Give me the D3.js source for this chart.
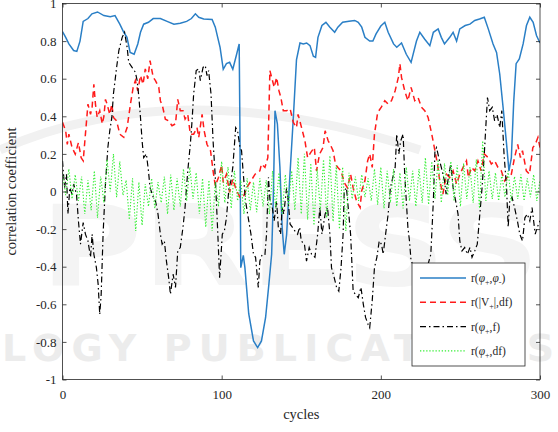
<!DOCTYPE html>
<html>
<head>
<meta charset="utf-8">
<script src="https://cdn.jsdelivr.net/npm/d3@7"></script>
<style>
  body { margin: 0; background: #fff; }
  svg { display: block; }
  svg text { font-family: "Liberation Serif", "Times New Roman", "DejaVu Serif", serif; }
  svg text.wm { font-family: "DejaVu Sans", sans-serif; }
</style>
</head>
<body>
<div id="chart"></div>
<script>
// values: [cycle, r]
const phiPlusPhiMinus = [
  [0,0.85],[2,0.82],[4,0.785],[7,0.75],[9,0.745],[11,0.80],[13,0.905],[16,0.92],[18.5,0.945],[22,0.955],
  [26,0.936],[30,0.93],[33,0.936],[36,0.89],[38.5,0.847],[40.5,0.82],[42.5,0.74],[45,0.73],[47.3,0.785],[49,0.847],
  [51,0.89],[54,0.90],[57,0.92],[61.5,0.92],[65.7,0.905],[70,0.89],[74,0.895],[78,0.905],[81,0.92],[83.5,0.945],
  [85.6,0.927],[88.7,0.918],[94,0.915],[96,0.874],[97.5,0.82],[99,0.767],[101,0.65],[103,0.68],[105,0.687],[107,0.65],
  [109.4,0.73],[111,0.785],[111.5,0.305],[112,-0.405],[113.6,-0.34],[114.6,-0.405],[117,-0.65],[120,-0.795],[122.6,-0.83],[125,-0.795],
  [127.6,-0.67],[129.7,-0.49],[131.4,-0.334],[132.4,-0.05],[133.5,0.43],[135,0.36],[136.6,0.128],[138,-0.19],[139.3,-0.334],[140.8,-0.23],
  [142.9,0.09],[145,0.39],[147,0.70],[149.2,0.79],[151.3,0.785],[153.4,0.79],[155.5,0.776],[157.6,0.72],[159,0.714],[160.5,0.82],
  [163,0.883],[165.5,0.90],[168,0.874],[171,0.847],[173,0.874],[176,0.90],[180,0.905],[183.6,0.91],[185.8,0.90],[188,0.874],
  [190,0.82],[193,0.80],[195,0.80],[197,0.838],[200,0.88],[202.5,0.90],[204.6,0.847],[208,0.785],[210,0.767],[213,0.79],
  [216,0.73],[219,0.687],[222.4,0.80],[224.5,0.847],[227.6,0.81],[230.8,0.776],[233,0.847],[236,0.865],[238,0.82],[240,0.785],
  [243.3,0.82],[245.4,0.847],[247.6,0.80],[249.6,0.865],[253,0.883],[256,0.89],[259,0.91],[262,0.918],[265,0.927],[267.5,0.865],
  [270.5,0.785],[272.7,0.74],[274.7,0.625],[276.8,0.448],[279,0.252],[280.5,0.11],[282,0.18],[283.5,0.48],[285,0.68],[287,0.705],
  [289.4,0.785],[291.5,0.883],[293.6,0.927],[295.7,0.90],[297.8,0.83],[300,0.79]
];

const vPlusDf = [
  [0,0.368],[2,0.323],[3,0.25],[4,0.305],[6,0.234],[8,0.199],[10,0.26],[11.7,0.18],[13,0.163],[14.4,0.305],
  [16,0.465],[17.6,0.41],[18.6,0.448],[19.7,0.57],[20.7,0.465],[21.8,0.394],[23.4,0.43],[25,0.36],[26,0.40],[27,0.49],
  [28,0.465],[29.7,0.41],[31,0.465],[32,0.394],[34,0.376],[36,0.305],[38.5,0.288],[40.6,0.34],[42.7,0.465],[44.4,0.554],
  [45.8,0.59],[47.3,0.536],[49,0.616],[50.6,0.57],[52,0.652],[53.6,0.60],[55,0.696],[57,0.607],[58.4,0.59],[60.5,0.554],
  [61.5,0.483],[63,0.448],[64.6,0.385],[66.7,0.376],[68.8,0.35],[71,0.36],[72.4,0.49],[74,0.43],[75.7,0.43],[77,0.385],
  [78.7,0.41],[80.3,0.305],[82.4,0.305],[84.5,0.34],[85.6,0.288],[87.7,0.41],[89,0.323],[90.8,0.25],[93,0.217],[94.6,0.11],
  [96,0.03],[98,0.075],[100,0.14],[101,0.048],[103,0.092],[105,-0.005],[107,0.066],[109,0.012],[111.5,-0.03],[113.6,-0.03],
  [115.7,0.02],[117.8,0.048],[121,0.092],[124,0.11],[125,0.146],[127.2,0.128],[129,0.18],[130.3,0.643],[131.4,0.607],[133,0.554],
  [134.5,0.607],[136,0.536],[137.2,0.50],[138.7,0.43],[140.8,0.43],[143,0.44],[145,0.368],[147,0.34],[148,0.41],[150.2,0.34],
  [152.3,0.27],[154,0.18],[156,0.208],[158.2,0.234],[159.6,0.11],[161.5,0.199],[163.7,0.234],[165,0.323],[166.9,0.27],[168.6,0.243],
  [170,0.217],[171.5,0.146],[173,0.128],[175,0.11],[177,0.048],[179,0.02],[181,0.092],[182.6,0.02],[184.7,-0.05],[187,-0.085],
  [188,0.004],[190,0.057],[191.7,0.163],[193,0.2],[194.6,0.128],[196,0.305],[198,0.42],[200.4,0.45],[202.5,0.483],[204.6,0.465],
  [206.7,0.483],[209,0.536],[211,0.607],[212,0.68],[213,0.607],[215,0.536],[217,0.483],[219,0.554],[221.3,0.483],[223.4,0.50],
  [225.5,0.448],[227.6,0.43],[229.7,0.394],[232,0.305],[234,0.217],[235.6,0.146],[237,0.057],[239,-0.014],[241.2,0.092],[243.3,0.075],
  [245.4,0.11],[247.6,0.04],[249.6,0.092],[251.7,0.128],[253.8,0.163],[255,0.075],[257,0.128],[259,0.11],[261,0.163],[263,0.11],
  [265,0.2],[267.5,0.18],[269.4,0.146],[271.5,0.163],[273.6,0.128],[275.7,0.11],[277.8,0.057],[280,0.083],[282,0.092],[284,0.18],
  [286,0.25],[287.7,0.18],[289,0.217],[291.4,0.11],[293.4,0.092],[295.5,0.234],[297,0.25],[298.7,0.288],[300,0.234]
];

const phiPlusF = [
  [0,0.163],[1.3,0.02],[2.5,0.092],[3.4,-0.12],[4.6,0.02],[6,-0.014],[7,0.04],[8.8,-0.014],[10,-0.156],[11.3,-0.28],
  [13,-0.165],[14.4,-0.227],[16,-0.263],[17.6,-0.35],[18.6,-0.227],[19.7,-0.334],[21.3,-0.405],[22.4,-0.494],[23.4,-0.654],[24.3,-0.547],
  [25.5,-0.227],[27,0.04],[28.5,0.234],[29.7,0.323],[31,0.394],[32,0.519],[34,0.66],[35.4,0.75],[37.5,0.82],[39,0.847],
  [40.6,0.767],[41.6,0.687],[43.7,0.66],[45.8,0.634],[46.9,0.59],[48,0.50],[49,0.394],[50,0.27],[51,0.18],[52.7,0.2],
  [54,0.11],[55,0.02],[57,-0.03],[58.4,-0.05],[60,-0.12],[61.5,-0.227],[62.6,-0.28],[64,-0.263],[65.3,-0.37],[66.7,-0.458],
  [67.8,-0.547],[69.5,-0.44],[71,-0.51],[72.4,-0.316],[74,-0.298],[75.7,-0.19],[77,-0.085],[78.7,0.11],[80.3,0.25],[81.4,0.376],
  [82.4,0.519],[84,0.643],[85.6,0.652],[86.6,0.59],[88.3,0.66],[89.7,0.67],[90.8,0.616],[91.8,0.643],[93.3,0.519],[94.6,0.27],
  [96,0.075],[97.5,-0.21],[98.7,-0.458],[100.4,-0.227],[101.7,-0.21],[103,-0.14],[104.6,0.02],[105.8,0.057],[107,0.128],[108.8,0.34],
  [110,0.323],[111.5,0.234],[112.5,0.217],[113.6,0.092],[115,-0.05],[116.7,-0.14],[118.4,-0.227],[120,-0.334],[121.3,-0.35],[123,-0.51],
  [124,-0.37],[125.5,-0.334],[127.2,-0.334],[128.2,-0.227],[129.4,0.075],[130.4,-0.05],[131.8,-0.085],[133,-0.156],[134.5,-0.05],[135.6,-0.19],
  [137,-0.227],[138,-0.085],[139,-0.12],[140.8,0.02],[141.8,-0.05],[143,-0.174],[144.4,-0.19],[146,-0.21],[147.7,-0.227],[149,-0.19],
  [150,-0.263],[152,-0.28],[153.3,-0.37],[155,-0.298],[156.5,-0.334],[158.6,-0.35],[160.3,-0.227],[161.7,-0.085],[163,-0.227],[165,-0.12],
  [166.5,-0.085],[168,-0.227],[169,-0.405],[170.7,-0.458],[172.2,-0.51],[173.6,-0.53],[175,-0.405],[176.3,-0.227],[177,0.004],[178.4,0.02],
  [179.5,-0.085],[181,-0.227],[182.6,-0.53],[184,-0.547],[185.8,-0.565],[187.5,-0.51],[189,-0.60],[190.4,-0.67],[192,-0.707],[193,-0.725],
  [194.6,-0.58],[196,-0.405],[197.5,-0.35],[199,-0.263],[200.4,-0.28],[201.5,-0.334],[203,-0.227],[204.6,-0.12],[206,0.02],[208,0.092],
  [209,0.128],[210,0.305],[211.3,0.2],[212.5,0.27],[214,0.305],[215,0.092],[216,-0.05],[217,-0.19],[218,-0.263],[219,-0.37],
  [221.4,-0.405],[225.5,-0.44],[229.7,-0.387],[231.4,-0.334],[233,-0.05],[234,0.217],[235,0.234],[236.4,0.18],[238,0.128],[240,0.057],
  [241,-0.014],[242.7,0.092],[244,0.146],[245.4,0.02],[247,-0.05],[248.5,-0.12],[249.6,-0.263],[251,-0.316],[252.7,-0.298],[254.4,-0.334],
  [256,-0.298],[257.3,-0.35],[259,-0.316],[260.6,-0.28],[262,-0.14],[263.6,0.02],[265,0.2],[265.7,0.305],[267,0.50],[268.4,0.43],
  [270,0.448],[271.5,0.376],[273,0.41],[274.7,0.34],[276,0.43],[277.4,0.2],[279,0.02],[280,-0.19],[281,-0.05],[282.4,-0.03],
  [284,-0.085],[285.8,-0.156],[287.3,-0.227],[289,-0.263],[290.5,-0.14],[292,-0.12],[293.6,-0.156],[295,-0.085],[297,-0.227],[298.3,-0.19],
  [300,-0.156]
];

// r(phi+, df), one value every 2 cycles
const dfCycles = d3.range(0, 301, 2);
const phiPlusDf = [
  0.10,-0.02,0.12,-0.04,0.09,-0.05,0.08,-0.12,0.06,-0.10,
  0.11,-0.14,0.08,-0.06,0.17,0.00,0.20,-0.03,0.16,-0.02,
  0.06,-0.15,0.07,-0.21,0.05,-0.18,0.04,-0.08,0.07,-0.09,
  0.05,-0.06,0.08,-0.12,0.09,-0.10,0.07,-0.08,0.12,-0.05,
  0.13,-0.04,0.10,-0.12,0.07,-0.19,0.06,-0.21,0.05,-0.08,
  0.16,-0.06,0.13,-0.09,0.11,-0.05,0.06,-0.12,0.07,-0.10,
  0.05,-0.11,0.07,-0.08,0.06,-0.12,0.11,-0.09,0.10,-0.12,
  0.09,-0.08,0.11,-0.10,0.18,-0.12,0.20,-0.15,0.15,-0.18,
  0.12,-0.10,0.17,-0.14,0.19,-0.16,0.14,-0.20,0.13,-0.21,
  0.10,-0.04,0.08,-0.05,0.09,-0.03,0.07,-0.05,0.12,-0.07,
  0.13,-0.09,0.11,-0.06,0.12,-0.08,0.10,-0.09,0.13,-0.05,
  0.11,-0.08,0.12,-0.06,0.18,-0.07,0.16,-0.04,0.17,-0.06,
  0.15,-0.02,0.16,-0.05,0.14,-0.08,0.15,-0.04,0.13,-0.06,
  0.17,-0.09,0.27,-0.05,0.11,-0.04,0.10,-0.05,0.09,-0.03,
  0.11,-0.05,0.08,-0.04,0.09,-0.05,0.07,-0.03,0.09,-0.05,
  0.06
];

const xTicks = [0, 100, 200, 300];
const yTicks = [-1, -0.8, -0.6, -0.4, -0.2, 0, 0.2, 0.4, 0.6, 0.8, 1];

const margin = {top: 3.5, right: 18, bottom: 52.5, left: 62.5};
const width = 558 - margin.left - margin.right;
const height = 432 - margin.top - margin.bottom;

const root = d3.select("#chart")
    .append("svg")
    .attr("width", 558)
    .attr("height", 432);

root.append("rect").attr("width", 558).attr("height", 432).attr("fill", "#fff");

// faint publisher watermark behind the plot
const wm = root.append("g").attr("font-weight", "bold");
wm.append("path")
    .attr("d", "M0,150 Q180,70 420,150")
    .attr("fill", "none").attr("stroke", "#f1f1f1").attr("stroke-width", 9);
wm.append("text").attr("class", "wm").attr("x", 40).attr("y", 285).attr("font-size", 112)
    .attr("fill", "#f4f4f4")
    .attr("textLength", 500).attr("lengthAdjust", "spacingAndGlyphs").text("PRESS");
wm.append("text").attr("class", "wm").attr("x", 2).attr("y", 361).attr("font-size", 38).attr("fill", "#ececec")
    .attr("textLength", 552).attr("lengthAdjust", "spacing").text("LOGY PUBLICATIONS");

const svg = root.append("g")
    .attr("transform", `translate(${margin.left},${margin.top})`);

const x = d3.scaleLinear().domain([0, 300]).range([0, width]);
const y = d3.scaleLinear().domain([-1, 1]).range([height, 0]);

svg.append("clipPath").attr("id", "plot")
  .append("rect").attr("width", width).attr("height", height);

const line = d3.line().x(d => x(d[0])).y(d => y(d[1]));

const plot = svg.append("g").attr("clip-path", "url(#plot)").attr("fill", "none");

plot.append("path").datum(phiPlusPhiMinus)
    .attr("d", line).attr("stroke", "#2a7fc6").attr("stroke-width", 1.5);
plot.append("path").datum(vPlusDf)
    .attr("d", line).attr("stroke", "#ff1a1a").attr("stroke-width", 1.5)
    .attr("stroke-dasharray", "6,4");
plot.append("path").datum(phiPlusF)
    .attr("d", line).attr("stroke", "#000").attr("stroke-width", 1.2)
    .attr("stroke-dasharray", "6,3,1.5,3");
plot.append("path").datum(dfCycles.map((c, i) => [c, phiPlusDf[i]]))
    .attr("d", line).attr("stroke", "#33ee33").attr("stroke-width", 1.1)
    .attr("stroke-dasharray", "1.3,1.8");

// axes, MATLAB style: inward ticks on all four sides
const axisStyle = g => {
  g.attr("font-family", null);
  g.selectAll(".domain").remove();
  g.selectAll("line").attr("stroke", "#262626").attr("stroke-width", 0.8);
  g.selectAll("text").attr("font-size", 13).attr("fill", "#262626");
};

svg.append("g").attr("transform", `translate(0,${height})`)
    .call(d3.axisBottom(x).tickValues(xTicks).tickSize(-4).tickPadding(10))
    .call(axisStyle);
svg.append("g")
    .call(d3.axisTop(x).tickValues(xTicks).tickSize(-4).tickFormat(""))
    .call(axisStyle);
svg.append("g")
    .call(d3.axisLeft(y).tickValues(yTicks).tickSize(-4).tickPadding(6).tickFormat(d => String(+d.toFixed(1))))
    .call(axisStyle);
svg.append("g").attr("transform", `translate(${width},0)`)
    .call(d3.axisRight(y).tickValues(yTicks).tickSize(-4).tickFormat(""))
    .call(axisStyle);

svg.append("rect").attr("width", width).attr("height", height)
    .attr("fill", "none").attr("stroke", "#262626").attr("stroke-width", 0.8);

svg.append("text")
    .attr("x", width / 2).attr("y", height + 39)
    .attr("text-anchor", "middle")
    .attr("font-size", 14.5).attr("fill", "#262626")
    .text("cycles");

svg.append("text")
    .attr("transform", `translate(${-47},${height / 2}) rotate(-90)`)
    .attr("text-anchor", "middle")
    .attr("font-size", 14.5).attr("fill", "#262626")
    .text("correlation coefficient");

// legend
const legendItems = [
  {stroke: "#2a7fc6", width: 1.5, dash: null, parts: [["r(", 0], ["φ", 0, true], ["+", 1], [",", 0], ["φ", 0, true], ["-", 1], [")", 0]]},
  {stroke: "#ff1a1a", width: 1.5, dash: "6,4", parts: [["r(|V", 0], ["+", 1], ["|,df)", 0]]},
  {stroke: "#000", width: 1.2, dash: "6,3,1.5,3", parts: [["r(", 0], ["φ", 0, true], ["+", 1], [",f)", 0]]},
  {stroke: "#33ee33", width: 1.1, dash: "1.3,1.8", parts: [["r(", 0], ["φ", 0, true], ["+", 1], [",df)", 0]]}
];

const legend = root.append("g").attr("transform", "translate(412,263)");
legend.append("rect").attr("width", 113).attr("height", 103)
    .attr("fill", "#fff").attr("stroke", "#262626").attr("stroke-width", 0.8);

legendItems.forEach((item, i) => {
  const row = legend.append("g").attr("transform", `translate(0,${15 + i * 24.3})`);
  row.append("line").attr("x1", 8).attr("x2", 54).attr("y1", 0).attr("y2", 0)
      .attr("stroke", item.stroke).attr("stroke-width", item.width)
      .attr("stroke-dasharray", item.dash);
  const t = row.append("text").attr("x", 59).attr("y", 4)
      .attr("font-size", 11.5).attr("fill", "#262626");
  let shifted = 0;
  item.parts.forEach(([s, sub, italic]) => {
    const dy = sub ? 3 - shifted : -shifted;
    shifted = sub ? 3 : 0;
    t.append("tspan").attr("dy", dy)
        .attr("font-size", sub ? 8 : 11.5)
        .attr("font-style", italic ? "italic" : null)
        .text(s);
  });
});
</script>
</body>
</html>
